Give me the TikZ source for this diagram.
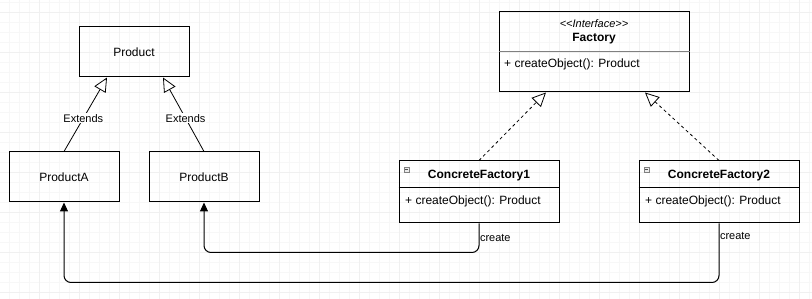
\documentclass[tikz,border=0pt]{standalone}
\usepackage{fontspec}
\setmainfont{Liberation Sans}
\usepackage{tikz}
\usetikzlibrary{arrows.meta}

\begin{document}
\begin{tikzpicture}[x=1pt,y=-1pt,
        box/.style={draw,line width=1pt,inner sep=0pt,minimum width=110pt,minimum height=50pt,font=\fontsize{12}{14}\selectfont},
        txt/.style={inner sep=0pt,font=\fontsize{12}{14}\selectfont},
        lbl/.style={inner sep=1pt,fill=white,font=\fontsize{11}{13}\selectfont},
        extends/.style={line width=0.8pt,-{Triangle[open,length=14pt,width=13pt,fill=white]}},
        implements/.style={line width=0.8pt,dash pattern=on 3pt off 3pt,-{Triangle[open,length=14pt,width=13pt,fill=white]}},
        create/.style={line width=1pt,rounded corners=7pt,-{Triangle[length=9pt,width=8pt]}}]
        \useasboundingbox (0,0) rectangle (812,299);
        \fill[white] (0,0) rectangle (812,299);
        % grid
        \foreach \x in {9.5,19.5,...,809.5} \draw[line width=0.6pt,color=gray!6] (\x,0) -- (\x,299);
        \foreach \y in {2.5,12.5,...,292.5} \draw[line width=0.6pt,color=gray!6] (0,\y) -- (812,\y);
        \foreach \x in {39.5,79.5,...,799.5} \draw[line width=0.8pt,color=gray!12] (\x,0) -- (\x,299);
        \foreach \y in {12.5,52.5,...,292.5} \draw[line width=0.8pt,color=gray!12] (0,\y) -- (812,\y);
        % products
        \node[box] (product) at (134,52) {Product};
        \node[box] (producta) at (64,177) {ProductA};
        \node[box] (productb) at (204,177) {ProductB};
        \draw[extends] (producta.north) -- ([xshift=-27pt]product.south) node[lbl,pos=0.45] {Extends};
        \draw[extends] (productb.north) -- ([xshift=29pt]product.south) node[lbl,pos=0.45] {Extends};
        % interface
        \node[box,minimum width=190pt,minimum height=80pt] (factory) at (594,52) {};
        \node[txt,font=\fontsize{11}{13}\selectfont\itshape] (stereo) at (594,24) {<\kern0pt<Interface>\kern0pt>};
        \node[txt,font=\fontsize{12}{14}\selectfont\bfseries] (fname) at (594,38.5) {Factory};
        \draw[line width=0.8pt,color=gray] (factory.west |- 0,51.5) -- (factory.east |- 0,51.5);
        \node[txt,anchor=west] (fop) at (504,64.5) {+ createObject(): Product};
        % concrete factories
        \foreach \n/\cx in {1/479,2/719} {
            \node[box,minimum width=160pt,minimum height=62pt] (cf\n) at (\cx,192) {};
            \node[txt,font=\fontsize{12}{14}\selectfont\bfseries] (cf\n name) at (\cx,176) {ConcreteFactory\n};
            \draw[line width=1pt] (cf\n.west |- 0,188) -- (cf\n.east |- 0,188);
            \node[txt,anchor=west] (cf\n op) at (\cx-74,201.5) {+ createObject(): Product};
            \node[draw=gray,fill=gray!15,line width=0.6pt,minimum size=5pt,inner sep=0pt] (cf\n icon) at (\cx-72.5,169.5) {};
            \draw[line width=0.6pt,color=black!70] ([xshift=1.2pt]cf\n icon.west) -- ([xshift=-1.2pt]cf\n icon.east);
        }
        \draw[implements] (cf1.north) -- ([xshift=-48pt]factory.south);
        \draw[implements] (cf2.north) -- ([xshift=51pt]factory.south);
        % create links
        \draw[create] (cf1.south) -- node[lbl,fill=none,anchor=west,inner sep=0.5pt] (c1) {create} ++(0,29) -| (productb.south);
        \draw[create] (cf2.south) -- node[lbl,fill=none,anchor=west,inner sep=0.5pt,pos=0.22] (c2) {create} ++(0,59) -| (producta.south);
    \end{tikzpicture}
\end{document}
